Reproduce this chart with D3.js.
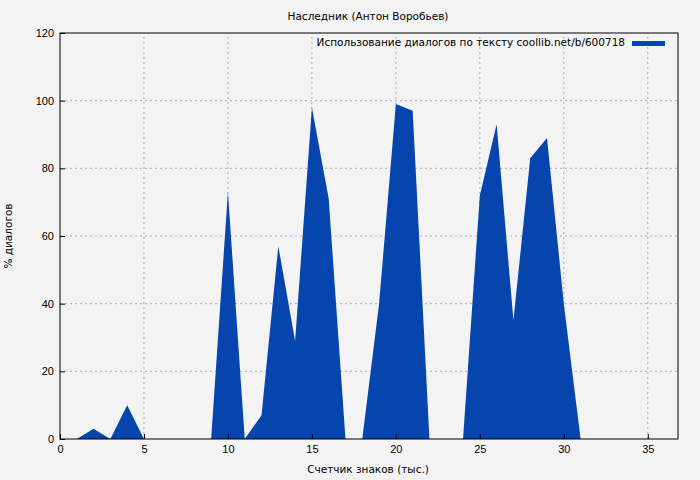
<!DOCTYPE html>
<html><head><meta charset="utf-8">
<script src="https://cdn.jsdelivr.net/npm/d3@7"></script>
<style>body{margin:0;background:#f3f3f3}svg{font-family:"DejaVu Sans",sans-serif}</style>
</head><body><div class="chart"></div>
<script>
const xs = [0,1,2,3,4,5,6,7,8,9,10,11,12,13,14,15,16,17,18,19,20,21,22,23,24,25,26,27,28,29,30,31,32,33,34,35,36];
const ys = [0,0,3,0,10,0,0,0,0,0,73,0,7,57,29,98,71,0,0,40,99,97,0,0,0,72,93,35,83,89,40,0,0,0,0,0,0];
const xTicks = [0,5,10,15,20,25,30,35];
const yTicks = [0,20,40,60,80,100,120];
const title = "Наследник (Антон Воробьев)";
const legendText = "Использование диалогов по тексту coollib.net/b/600718";

const w = 700, h = 480;
const m = {l: 60, r: 22, t: 33, b: 41};
const svg = d3.select(".chart").append("svg").attr("width", w).attr("height", h);
svg.append("rect").attr("width", w).attr("height", h).attr("fill", "#f3f3f3");

const x = d3.scaleLinear().domain([0, 36.8]).range([m.l, w - m.r]);
const y = d3.scaleLinear().domain([0, 120]).range([h - m.b, m.t]);

const grid = svg.append("g").attr("stroke", "#999").attr("stroke-dasharray", "2,3").attr("stroke-width", 0.8);
xTicks.slice(1).forEach(t => grid.append("line").attr("x1", x(t)).attr("x2", x(t)).attr("y1", y(0)).attr("y2", y(120)));
yTicks.slice(1, -1).forEach(t => grid.append("line").attr("x1", x(0)).attr("x2", x(36.8)).attr("y1", y(t)).attr("y2", y(t)));

svg.append("path").datum(xs.map((d, i) => [d, ys[i]]))
    .attr("fill", "#0645ad")
    .attr("d", d3.area().x(d => x(d[0])).y0(y(0)).y1(d => y(d[1])));

svg.append("rect").attr("x", m.l).attr("y", m.t).attr("width", w - m.l - m.r).attr("height", h - m.t - m.b)
    .attr("fill", "none").attr("stroke", "#000");

const xa = svg.append("g").attr("transform", "translate(0," + (h - m.b) + ")")
    .call(d3.axisBottom(x).tickValues(xTicks).tickSize(-5).tickPadding(6));
const ya = svg.append("g").attr("transform", "translate(" + m.l + ",0)")
    .call(d3.axisLeft(y).tickValues(yTicks).tickSize(-5).tickPadding(6));
[xa, ya].forEach(a => { a.select(".domain").remove(); a.selectAll("text").attr("font-size", 11).attr("fill", "#000"); });

svg.append("text").attr("x", 368).attr("y", 20).attr("text-anchor", "middle").attr("font-size", 10.5).text(title);
svg.append("text").attr("x", 368).attr("y", 473).attr("text-anchor", "middle").attr("font-size", 10.5).text("Счетчик знаков (тыс.)");
svg.append("text").attr("transform", "translate(12,236) rotate(-90)").attr("text-anchor", "middle").attr("font-size", 10.5).text("% диалогов");

svg.append("text").attr("x", 625).attr("y", 46).attr("text-anchor", "end").attr("font-size", 10.5).text(legendText);
svg.append("rect").attr("x", 632).attr("y", 41).attr("width", 33).attr("height", 5).attr("fill", "#0645ad");
</script></body></html>
